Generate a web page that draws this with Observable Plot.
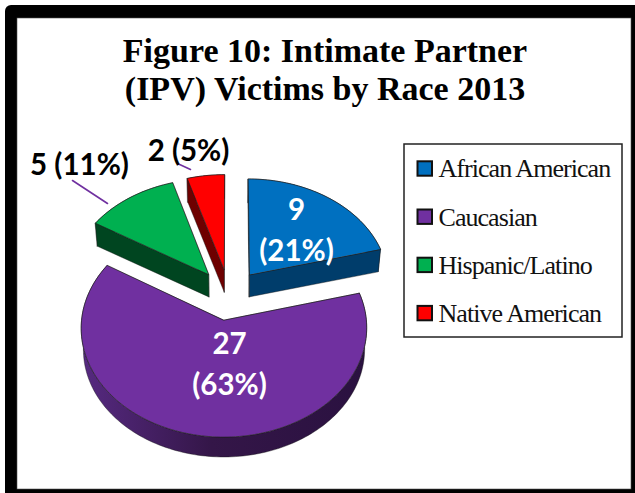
<!DOCTYPE html>
<html><head><meta charset="utf-8">
<style>html,body{margin:0;padding:0;background:#fff;overflow:hidden}svg{display:block}</style>
<script src="https://cdn.jsdelivr.net/npm/d3@7"></script>
<script src="https://cdn.jsdelivr.net/npm/@observablehq/plot@0.6"></script>
</head><body><div id="chart"></div>
<script>
const titleLines = ["Figure 10: Intimate Partner", "(IPV) Victims by Race 2013"];
const categories = ["African American", "Caucasian", "Hispanic/Latino", "Native American"];
const counts = [9, 27, 5, 2];
const percents = [21, 63, 11, 5];
const topColors = ["#0070c0", "#7030a0", "#00b050", "#ff0000"];
const wallColors = ["#003d6b", "url(#purpleWall)", "#004520", "#6e0000"];

// layout of the projected pie
const W = 635, H = 493;
const view = {cx: 228.5, cy: 294, R: 140, tilt: 0.75, persp: 0.0005, depth: 22, shrink: 0.985, explode: 34};
const labelPos = [[296, 226.5], [229, 361], [79, 161], [188, 147]];
const leaders = [[], [], [[72, 180], [107, 203]], [[177, 163], [190, 169]]];

function ground(X, Y) {
  const s = 1 / (1 + view.persp * Y);
  return [view.cx + X * s, view.cy - Y * view.tilt * s];
}
function drop([x, y]) {
  return [view.cx + (x - view.cx) * view.shrink, view.cy + (y - view.cy) * view.shrink + view.depth];
}
const arcs = d3.pie().sort(null).value(d => d)(counts);
const slices = arcs.map((a, i) => {
  const mid = (a.startAngle + a.endAngle) / 2;
  const ox = view.explode * Math.sin(mid), oy = view.explode * Math.cos(mid);
  const n = Math.max(4, Math.ceil((a.endAngle - a.startAngle) * 40));
  const rim = d3.range(n + 1).map(k => {
    const t = a.startAngle + (a.endAngle - a.startAngle) * k / n;
    return ground(ox + view.R * Math.sin(t), oy + view.R * Math.cos(t));
  });
  return {i, category: categories[i], apex: ground(ox, oy), rim};
});
const paint = [3, 2, 0, 1];
const walls = [], tops = [];
const push = (arr, id, i, pts) => pts.forEach(p => arr.push({id, i, category: categories[i], x: p[0], y: p[1]}));
for (const k of paint) {
  const s = slices[k];
  const first = s.rim[0], last = s.rim[s.rim.length - 1];
  push(walls, k + "-arc", k, [...s.rim, ...s.rim.map(drop).reverse()]);
  push(walls, k + "-a", k, [s.apex, last, drop(last), drop(s.apex)]);
  push(walls, k + "-b", k, [s.apex, first, drop(first), drop(s.apex)]);
  push(tops, k + "-top", k, [s.apex, ...s.rim]);
}
const labels = categories.map((c, i) => ({
  text: i < 2 ? `${counts[i]}\n(${percents[i]}%)` : `${counts[i]} (${percents[i]}%)`,
  x: labelPos[i][0], y: labelPos[i][1], light: i < 2
}));
const leaderPts = leaders.flatMap((l, i) => l.map(p => ({i, x: p[0], y: p[1]})));
const rowY = i => 168.5 + 48.2 * i;
const legendRows = categories.map((c, i) => ({c, i}));

const plot = Plot.plot({
  width: W, height: H, margin: 0,
  x: {domain: [0, W], range: [0, W], axis: null},
  y: {domain: [0, H], range: [0, H], axis: null},
  color: {domain: categories, range: topColors},
  style: {background: "#fff"},
  marks: [
    // picture frame
    Plot.rect([0], {x1: 5, x2: 660, y1: 5, y2: 520, fill: "#000", rx: 6}),
    Plot.rect([0], {x1: 17, x2: 631, y1: 18, y2: 489, fill: "#fff", stroke: "#555", strokeWidth: 0.6}),
    // title
    Plot.text(titleLines, {x: 324.5, y: (d, i) => 50.5 + 38.5 * i, text: d => d, fontFamily: "Liberation Serif", fontWeight: "bold", fontSize: 34, fill: "#000", textAnchor: "middle"}),
    // walls then tops of each slice
    Plot.line(walls, {x: "x", y: "y", z: "id", curve: "linear-closed", fill: {value: d => wallColors[d.i], scale: null}, stroke: "#111", strokeWidth: 0.5, strokeOpacity: 0.8}),
    Plot.line(tops, {x: "x", y: "y", z: "id", curve: "linear-closed", fill: "category", stroke: "#222", strokeWidth: 0.7}),
    // leaders
    Plot.line(leaderPts, {x: "x", y: "y", z: "i", stroke: "#7030a0", strokeWidth: 1.6}),
    // data labels
    Plot.text(labels, {x: "x", y: "y", text: "text", fontFamily: "Lato", fontWeight: "bold", fontSize: 29.5, lineHeight: 1.39, textAnchor: "middle", fill: d => d.light ? "#ffffff" : "#000000"}),
    // legend
    Plot.rect([0], {x1: 404, x2: 622, y1: 144, y2: 337, fill: "#fff", stroke: "#222", strokeWidth: 1.5}),
    Plot.rect(legendRows, {x1: 417.5, x2: 432, y1: d => rowY(d.i) - 7.2, y2: d => rowY(d.i) + 7.2, fill: "c", stroke: "#111", strokeWidth: 2}),
    Plot.text(legendRows, {x: 438, y: d => rowY(d.i), text: "c", textAnchor: "start", fontFamily: "Liberation Serif", fontSize: 26, fill: "#111"})
  ]
});
d3.select(plot).selectAll("text").filter(function () { return categories.includes(this.textContent); }).style("letter-spacing", "-0.95px");
const defs = d3.select(plot).insert("defs", ":first-child");
const g = defs.append("linearGradient").attr("id", "purpleWall").attr("gradientUnits", "userSpaceOnUse").attr("x1", 85).attr("x2", 365).attr("y1", 0).attr("y2", 0);
g.append("stop").attr("offset", "0%").attr("stop-color", "#55297f");
g.append("stop").attr("offset", "45%").attr("stop-color", "#341648");
g.append("stop").attr("offset", "100%").attr("stop-color", "#2a1140");
document.getElementById("chart").append(plot);
</script></body></html>
